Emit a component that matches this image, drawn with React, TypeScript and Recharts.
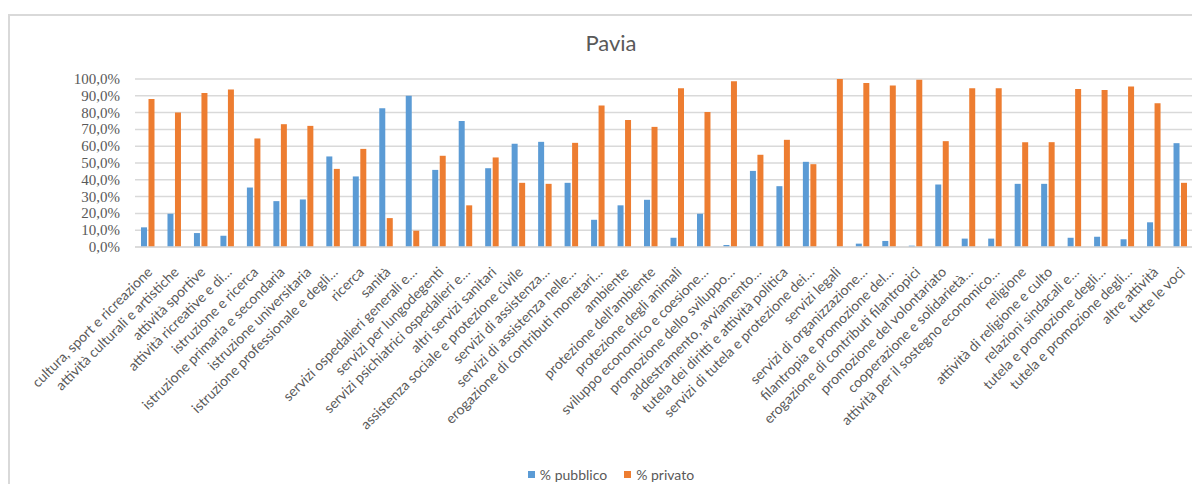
import React from 'react'
import { BarChart, Bar, XAxis, YAxis, CartesianGrid, Legend } from 'recharts'

const categories = [
  'cultura, sport e ricreazione',
  'attività culturali e artistiche',
  'attività sportive',
  'attività ricreative e di…',
  'istruzione e ricerca',
  'istruzione primaria e secondaria',
  'istruzione universitaria',
  'istruzione professionale e degli…',
  'ricerca',
  'sanità',
  'servizi ospedalieri generali e…',
  'servizi per lungodegenti',
  'servizi psichiatrici ospedalieri e…',
  'altri servizi sanitari',
  'assistenza sociale e protezione civile',
  'servizi di assistenza…',
  'servizi di assistenza nelle…',
  'erogazione di contributi monetari…',
  'ambiente',
  'protezione dell’ambiente',
  'protezione degli animali',
  'sviluppo economico e coesione…',
  'promozione dello sviluppo…',
  'addestramento, avviamento…',
  'tutela dei diritti e attività politica',
  'servizi di tutela e protezione dei…',
  'servizi legali',
  'servizi di organizzazione…',
  'filantropia e promozione del…',
  'erogazione di contributi filantropici',
  'promozione del volontariato',
  'cooperazione e solidarietà…',
  'attività per il sostegno economico…',
  'religione',
  'attività di religione e culto',
  'relazioni sindacali e…',
  'tutela e promozione degli…',
  'tutela e promozione degli…',
  'altre attività',
  'tutte le voci',
]

const pubblico = [
  11.7, 19.8, 8.3, 6.7, 35.4, 27.3, 28.3, 53.9, 42.0, 82.6,
  90.1, 45.9, 75.0, 46.9, 61.4, 62.6, 38.2, 16.2, 24.8, 28.1,
  5.5, 19.8, 1.2, 45.3, 36.2, 50.7, 0, 2.0, 3.6, 0.8,
  37.2, 5.0, 5.0, 37.6, 37.6, 5.5, 6.1, 4.6, 14.7, 61.8,
]

const privato = [
  88.1, 80.0, 91.7, 93.7, 64.6, 73.1, 72.1, 46.5, 58.4, 17.2,
  9.7, 54.3, 24.8, 53.3, 38.2, 37.6, 62.0, 84.2, 75.6, 71.5,
  94.5, 80.4, 98.6, 54.9, 63.8, 49.3, 100, 97.6, 96.2, 99.6,
  63.0, 94.5, 94.5, 62.4, 62.4, 94.1, 93.5, 95.6, 85.5, 38.2,
]

const yTicks = [0, 10, 20, 30, 40, 50, 60, 70, 80, 90, 100]

const BLUE = '#5b9bd5'
const ORANGE = '#ed7d31'
const TEXT = '#595959'
const GRID = '#d9d9d9'
const SANS = 'Lato, sans-serif'

const data = categories.map((name, i) => ({
  name: `${i}`,
  label: name,
  pubblico: pubblico[i],
  privato: privato[i],
}))

const fmtPct = (v: number) => v.toFixed(1).replace('.', ',') + '%'

function CategoryTick({ x, y, payload }: any) {
  const label = categories[Number(payload.value)]
  return (
    <g transform={`translate(${x + 5},${y + 18})`}>
      <text textAnchor="end" transform="rotate(-45)" fill={TEXT} fontSize={14} fontFamily={SANS}>
        {label}
      </text>
    </g>
  )
}

function PercentTick({ x, y, payload }: any) {
  return (
    <text
      x={x}
      y={y}
      dy={5}
      textAnchor="end"
      fill={TEXT}
      fontSize={15}
      fontFamily='"Liberation Serif", "DejaVu Serif", serif'
    >
      {fmtPct(payload.value)}
    </text>
  )
}

function LegendContent() {
  const items = [
    { color: BLUE, text: '% pubblico' },
    { color: ORANGE, text: '% privato' },
  ]
  return (
    <div style={{ display: 'flex', justifyContent: 'center', gap: 17, fontFamily: SANS, fontSize: 14, color: TEXT }}>
      {items.map(it => (
        <div key={it.text} style={{ display: 'flex', alignItems: 'center' }}>
          <span style={{ width: 7, height: 7, background: it.color, marginRight: 5, display: 'inline-block' }} />
          {it.text}
        </div>
      ))}
    </div>
  )
}

export default function App() {
  return (
    <div style={{ position: 'relative', width: 1200, height: 492, margin: -8, overflow: 'hidden', background: '#fff' }}>
      <div style={{ position: 'absolute', left: 8, top: 14, width: 1300, height: 600, border: `2px solid ${GRID}` }} />
      <div
        style={{
          position: 'absolute', left: 0, top: 29, width: 1222, textAlign: 'center',
          fontFamily: SANS, fontSize: 22, color: TEXT,
        }}
      >
        Pavia
      </div>
      <div style={{ position: 'absolute', left: 0, top: 0 }}>
        <BarChart
          width={1200}
          height={492}
          data={data}
          margin={{ top: 79, right: 6, bottom: 0, left: 0 }}
          barSize={6}
          barGap={1.5}
        >
          <CartesianGrid vertical={false} stroke={GRID} strokeWidth={1.5} />
          <XAxis
            dataKey="name"
            interval={0}
            height={245}
            tick={<CategoryTick />}
            tickLine={false}
            axisLine={{ stroke: GRID, strokeWidth: 1.5 }}
          />
          <YAxis
            width={135}
            domain={[0, 100]}
            ticks={yTicks}
            interval={0}
            tickLine={false}
            axisLine={false}
            tickMargin={9}
            tick={<PercentTick />}
          />
          <Legend
            layout="horizontal"
            verticalAlign="middle"
            align="center"
            content={<LegendContent />}
            wrapperStyle={{ top: 466, left: 0, width: 1222 }}
          />
          <Bar dataKey="pubblico" fill={BLUE} isAnimationActive={false} />
          <Bar dataKey="privato" fill={ORANGE} isAnimationActive={false} />
        </BarChart>
      </div>
    </div>
  )
}
